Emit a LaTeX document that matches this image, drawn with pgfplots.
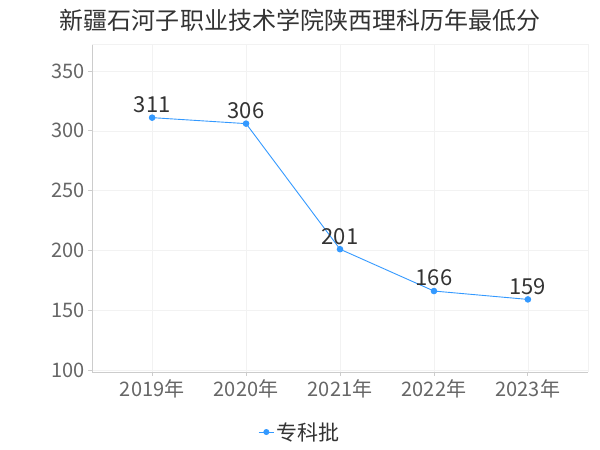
\documentclass[border=0pt]{standalone}
\usepackage{pgfplots}
\pgfplotsset{compat=1.18}
\usepackage{fontspec}
\setmainfont{Noto Sans CJK SC}
\definecolor{linec}{HTML}{3399FF}
\definecolor{tickc}{HTML}{666666}
\definecolor{txtc}{HTML}{333333}
\definecolor{gridc}{HTML}{F2F2F2}
\definecolor{axc}{HTML}{CCCCCC}
\begin{document}
\begin{tikzpicture}[x=1bp,y=1bp]
\path[fill=white] (0,0) rectangle (600,450);
\node[text=txtc,font=\fontsize{24bp}{26bp}\selectfont] at (300,430) {新疆石河子职业技术学院陕西理科历年最低分};
\begin{axis}[
  at={(92bp,78bp)}, anchor=south west,
  scale only axis, width=496bp, height=328bp,
  xmin=-0.64, xmax=4.64, ymin=98.3, ymax=372.6,
  xtick={0,1,2,3,4},
  xticklabels={2019年,2020年,2021年,2022年,2023年},
  ytick={100,150,200,250,300,350},
  /pgf/number format/assume math mode=true,
  tick label style={text=tickc,font=\fontsize{20bp}{22bp}\selectfont},
  axis x line*=bottom, axis y line*=left,
  axis line style={axc,line width=0.8pt,-},
  tick style={axc,line width=0.8pt},
  tick align=outside, major tick length=4bp,
  xmajorgrids, ymajorgrids,
  grid style={gridc,line width=0.6pt},
  nodes near coords,
  every node near coord/.append style={text=txtc,font=\fontsize{22bp}{24bp}\selectfont,anchor=south,yshift=1bp},
  legend style={at={(0.419,-0.183)},anchor=center,draw=none,fill=none,
    font=\fontsize{21bp}{23bp}\selectfont,text=txtc},
  legend image post style={scale=0.9},
  clip=false,
]
\draw[gridc,line width=0.6pt] (rel axis cs:0,1) -- (rel axis cs:1,1) -- (rel axis cs:1,0);
\addplot[color=linec,line width=0.9pt,mark=*,mark size=2.8bp,mark options={fill=linec,draw=linec}]
  coordinates {(0,311) (1,306) (2,201) (3,166) (4,159)};
\addlegendentry{专科批}
\end{axis}
\end{tikzpicture}
\end{document}
